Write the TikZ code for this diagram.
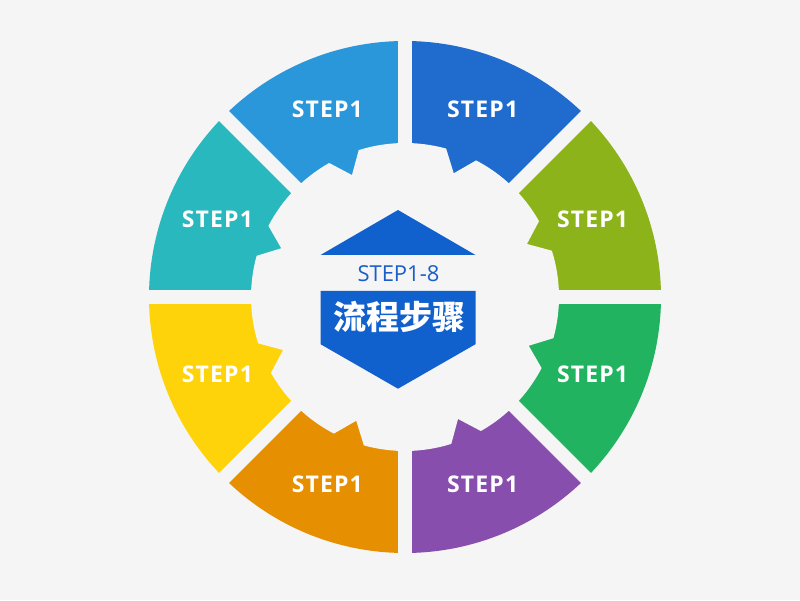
\documentclass[tikz,border=0pt]{standalone}
\usepackage{fontspec}
\setmainfont{Open Sans}
\newfontfamily\cjk{Noto Sans CJK SC}
\newfontfamily\wideopen[LetterSpace=5]{Open Sans}
\usepackage{tikz}
\usepackage{xcolor}
\usetikzlibrary{calc}

\definecolor{bgray}{HTML}{F5F5F5}
\definecolor{segolive}{HTML}{8CB31A}
\definecolor{segblue}{HTML}{1F6BCE}
\definecolor{seglight}{HTML}{2B97DB}
\definecolor{segteal}{HTML}{28B8BE}
\definecolor{segyellow}{HTML}{FFD30A}
\definecolor{segorange}{HTML}{E68F00}
\definecolor{segpurple}{HTML}{874EAD}
\definecolor{seggreen}{HTML}{21B35F}
\definecolor{hexblue}{HTML}{1060CD}
\definecolor{hextext}{HTML}{1A5FC9}

\begin{document}
\begin{tikzpicture}[x=1pt,y=1pt]
        \tikzset{seglabel/.style={text=white,inner sep=0pt,font=\wideopen\bfseries\fontsize{23}{23}\selectfont}}
        \useasboundingbox (0,0) rectangle (800,600);
        \fill[bgray] (0,0) rectangle (800,600);
        \coordinate (c) at (405,303);
        \coordinate (hex) at (398,300.5);
        % Ring of eight parts
        \begin{scope}[shift={(c)}]
        \foreach \col [count=\k from 0] in {segolive,segblue,seglight,segteal,segyellow,segorange,segpurple,seggreen}
            \fill[\col] (0,0) -- (45*\k:256) arc[start angle=45*\k, end angle=45*\k+45, radius=256] -- cycle;
        \foreach \a in {0,45,90,135}
            \fill[bgray,rotate=\a] (-260,-7) -- (260,-7) -- (260,7) -- (-260,7) -- cycle;
        % Gear in the middle
        \fill[bgray] (17.5:154) \foreach \t in {23.5,68.5,...,338.5} {
            -- (\t-6:154) -- (\t:133) -- (\t+6:154) arc[start angle=\t+6, end angle=\t+39, radius=154] } -- cycle;
        \end{scope}
        \foreach \k in {0,...,7}
            \node[seglabel] (s\k) at ($(c)+(22.5+45*\k:203)$) {STEP1};
        % Hexagon and its texts
        \fill[hexblue] ($(hex)+(-77.5,44.5)$) -- ($(hex)+(0,89.5)$) -- ($(hex)+(77.5,44.5)$) -- cycle;
        \fill[hexblue] ($(hex)+(-77.5,8.5)$) -- ($(hex)+(77.5,8.5)$) -- ($(hex)+(77.5,-44.7)$)
            -- ($(hex)+(0,-89.2)$) -- ($(hex)+(-77.5,-44.7)$) -- cycle;
        \node[text=hextext,inner sep=0pt,font=\fontsize{22}{22}\selectfont] (title) at (398.5,326) {STEP1-8};
        \node[text=white,inner sep=0pt,font=\cjk\bfseries\fontsize{33}{33}\selectfont] (name) at (399.5,283) {流程步骤};
\end{tikzpicture}
\end{document}
